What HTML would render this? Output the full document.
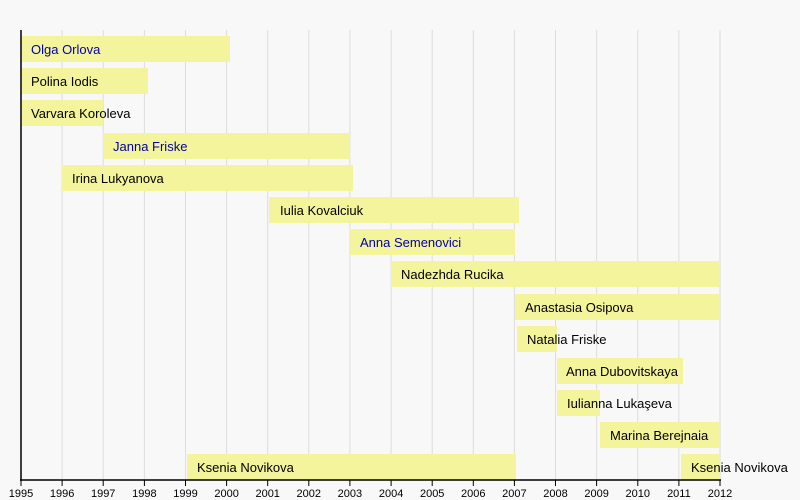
<!DOCTYPE html>
<html><head><meta charset="utf-8"><style>
html,body{margin:0;padding:0;background:#f8f8f8;}
svg{display:block;font-family:"Liberation Sans",sans-serif;}
</style></head><body>
<svg width="800" height="500" viewBox="0 0 800 500">
<rect width="800" height="500" fill="#f8f8f8"/>
<g stroke="#dddddd" stroke-width="1">
<line x1="62.1" y1="30" x2="62.1" y2="480"/><line x1="103.2" y1="30" x2="103.2" y2="480"/><line x1="144.4" y1="30" x2="144.4" y2="480"/><line x1="185.5" y1="30" x2="185.5" y2="480"/><line x1="226.6" y1="30" x2="226.6" y2="480"/><line x1="267.7" y1="30" x2="267.7" y2="480"/><line x1="308.8" y1="30" x2="308.8" y2="480"/><line x1="349.9" y1="30" x2="349.9" y2="480"/><line x1="391.1" y1="30" x2="391.1" y2="480"/><line x1="432.2" y1="30" x2="432.2" y2="480"/><line x1="473.3" y1="30" x2="473.3" y2="480"/><line x1="514.4" y1="30" x2="514.4" y2="480"/><line x1="555.5" y1="30" x2="555.5" y2="480"/><line x1="596.6" y1="30" x2="596.6" y2="480"/><line x1="637.8" y1="30" x2="637.8" y2="480"/><line x1="678.9" y1="30" x2="678.9" y2="480"/><line x1="720" y1="30" x2="720" y2="480"/>
</g>
<g fill="#f4f49c">
<rect x="22" y="36" width="208" height="26"/>
<rect x="22" y="68" width="126" height="26"/>
<rect x="22" y="100" width="81" height="26"/>
<rect x="103" y="133" width="247" height="26"/>
<rect x="62" y="165" width="291" height="26"/>
<rect x="269" y="197" width="250" height="26"/>
<rect x="349" y="229" width="166" height="26"/>
<rect x="391" y="261" width="329" height="26"/>
<rect x="515" y="294" width="205" height="26"/>
<rect x="517" y="326" width="40" height="26"/>
<rect x="557" y="358" width="126" height="26"/>
<rect x="557" y="390" width="43" height="26"/>
<rect x="600" y="422" width="120" height="26"/>
<rect x="187" y="454" width="329" height="26"/>
<rect x="681" y="454" width="39" height="26"/>
</g>
<g font-size="13" fill="#000">
<text x="31" y="54" fill="#0000aa">Olga Orlova</text>
<text x="31" y="86">Polina Iodis</text>
<text x="31" y="118">Varvara Koroleva</text>
<text x="113" y="151" fill="#0000aa">Janna Friske</text>
<text x="72" y="183">Irina Lukyanova</text>
<text x="280" y="215">Iulia Kovalciuk</text>
<text x="360" y="247" fill="#0000aa">Anna Semenovici</text>
<text x="401" y="279">Nadezhda Rucika</text>
<text x="525" y="312">Anastasia Osipova</text>
<text x="527" y="344">Natalia Friske</text>
<text x="566" y="376">Anna Dubovitskaya</text>
<text x="567" y="408">Iulianna Lukaşeva</text>
<text x="610" y="440">Marina Berejnaia</text>
<text x="197" y="472">Ksenia Novikova</text>
<text x="691" y="472">Ksenia Novikova</text>
</g>
<line x1="21" y1="30" x2="21" y2="481" stroke="#000" stroke-width="1.5"/>
<line x1="20" y1="480" x2="721" y2="480" stroke="#000" stroke-width="1.5"/>
<g stroke="#000" stroke-width="1">
<line x1="21" y1="480" x2="21" y2="486"/><line x1="62.1" y1="480" x2="62.1" y2="486"/><line x1="103.2" y1="480" x2="103.2" y2="486"/><line x1="144.4" y1="480" x2="144.4" y2="486"/><line x1="185.5" y1="480" x2="185.5" y2="486"/><line x1="226.6" y1="480" x2="226.6" y2="486"/><line x1="267.7" y1="480" x2="267.7" y2="486"/><line x1="308.8" y1="480" x2="308.8" y2="486"/><line x1="349.9" y1="480" x2="349.9" y2="486"/><line x1="391.1" y1="480" x2="391.1" y2="486"/><line x1="432.2" y1="480" x2="432.2" y2="486"/><line x1="473.3" y1="480" x2="473.3" y2="486"/><line x1="514.4" y1="480" x2="514.4" y2="486"/><line x1="555.5" y1="480" x2="555.5" y2="486"/><line x1="596.6" y1="480" x2="596.6" y2="486"/><line x1="637.8" y1="480" x2="637.8" y2="486"/><line x1="678.9" y1="480" x2="678.9" y2="486"/><line x1="720" y1="480" x2="720" y2="486"/>
</g>
<g font-size="11" fill="#000" text-anchor="middle">
<text x="21" y="497">1995</text><text x="62.1" y="497">1996</text><text x="103.2" y="497">1997</text><text x="144.4" y="497">1998</text><text x="185.5" y="497">1999</text><text x="226.6" y="497">2000</text><text x="267.7" y="497">2001</text><text x="308.8" y="497">2002</text><text x="349.9" y="497">2003</text><text x="391.1" y="497">2004</text><text x="432.2" y="497">2005</text><text x="473.3" y="497">2006</text><text x="514.4" y="497">2007</text><text x="555.5" y="497">2008</text><text x="596.6" y="497">2009</text><text x="637.8" y="497">2010</text><text x="678.9" y="497">2011</text><text x="720" y="497">2012</text>
</g>
</svg>
</body></html>
